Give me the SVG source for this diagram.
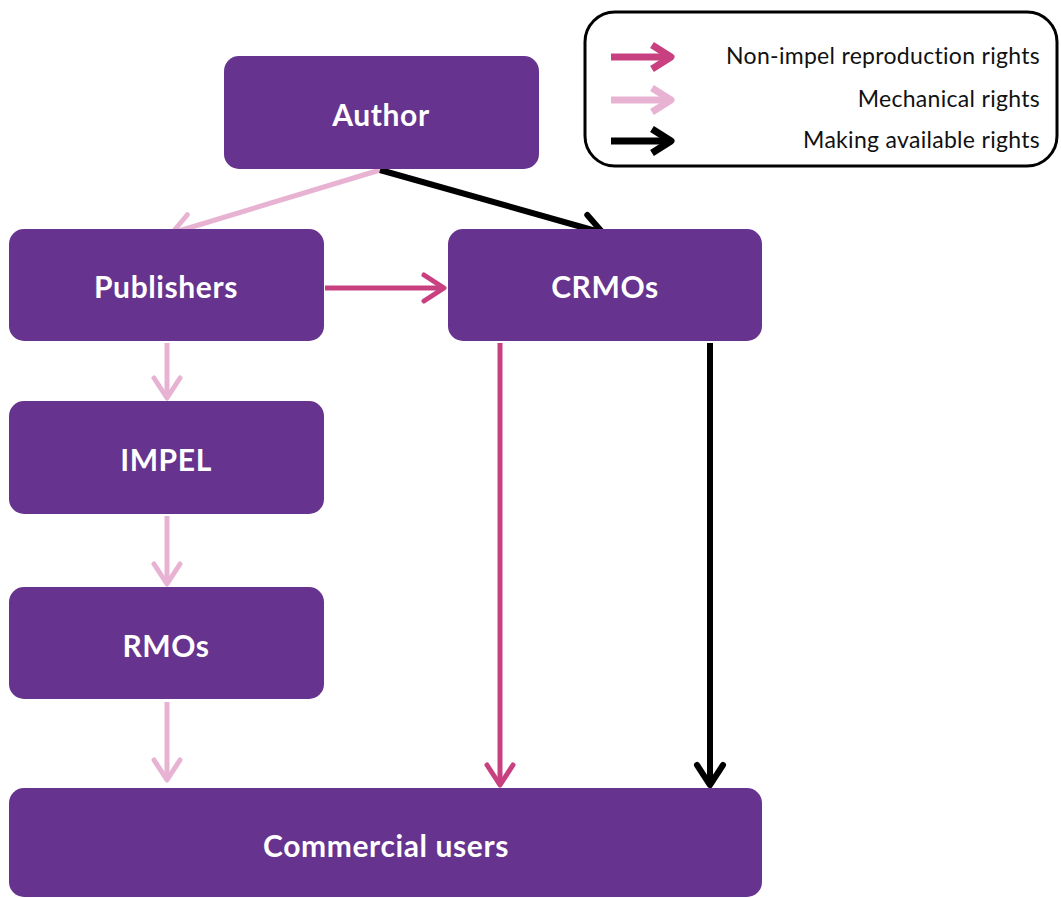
<svg xmlns="http://www.w3.org/2000/svg" width="1061" height="898" viewBox="0 0 1061 898">
<style>
.node{fill:#66338f;}
.lbl{fill:#ffffff;font-family:Lato,"Liberation Sans",sans-serif;font-size:30px;font-weight:bold;letter-spacing:0.6px;text-anchor:middle;}
.leg{fill:#111111;font-family:Lato,"Liberation Sans",sans-serif;font-size:23px;letter-spacing:0.3px;text-anchor:end;}
.c{fill:none;stroke-width:5;stroke-linecap:butt;}
.mech{stroke:#e8b3d3;}
.nonimp{stroke:#c8407f;}
.avail{stroke:#000000;stroke-width:6;}
</style>
<defs>
<marker id="hMech" markerUnits="userSpaceOnUse" viewBox="0 0 30 30" refX="26" refY="15" markerWidth="30" markerHeight="30" orient="auto" overflow="visible">
<path d="M6,2 L26,15 L6,28" fill="none" stroke="#e8b3d3" stroke-width="5" stroke-linecap="round" stroke-linejoin="round"/>
</marker>
<marker id="hNon" markerUnits="userSpaceOnUse" viewBox="0 0 30 30" refX="26" refY="15" markerWidth="30" markerHeight="30" orient="auto" overflow="visible">
<path d="M6,2 L26,15 L6,28" fill="none" stroke="#c8407f" stroke-width="5" stroke-linecap="round" stroke-linejoin="round"/>
</marker>
<marker id="hAv" markerUnits="userSpaceOnUse" viewBox="0 0 30 30" refX="26" refY="15" markerWidth="30" markerHeight="30" orient="auto" overflow="visible">
<path d="M6,2 L26,15 L6,28" fill="none" stroke="#000000" stroke-width="6" stroke-linecap="round" stroke-linejoin="round"/>
</marker>
</defs>
<rect width="1061" height="898" fill="#ffffff"/>

<g id="legend">
<rect x="585" y="12" width="472" height="154" rx="30" fill="#ffffff" stroke="#000000" stroke-width="3"/>
<line x1="611" y1="57" x2="668" y2="57" stroke="#c8407f" stroke-width="7"/>
<path d="M652,45 L671,57 L652,69" fill="none" stroke="#c8407f" stroke-width="7" stroke-linejoin="round"/>
<line x1="611" y1="100" x2="668" y2="100" stroke="#e8b3d3" stroke-width="7"/>
<path d="M652,88 L671,100 L652,112" fill="none" stroke="#e8b3d3" stroke-width="7" stroke-linejoin="round"/>
<line x1="611" y1="141" x2="668" y2="141" stroke="#000000" stroke-width="7"/>
<path d="M652,129 L671,141 L652,153" fill="none" stroke="#000000" stroke-width="7" stroke-linejoin="round"/>
<text class="leg" x="1040" y="64">Non-impel reproduction rights</text>
<text class="leg" x="1040" y="107">Mechanical rights</text>
<text class="leg" x="1040" y="148">Making available rights</text>
</g>

<g id="connectors">
<line class="c mech" x1="380" y1="170" x2="172" y2="233" marker-end="url(#hMech)"/>
<line class="c avail" x1="380" y1="170" x2="603" y2="233" marker-end="url(#hAv)"/>
<line class="c nonimp" x1="325" y1="288" x2="444" y2="288" marker-end="url(#hNon)"/>
<line class="c mech" x1="167" y1="343" x2="167" y2="398" marker-end="url(#hMech)"/>
<line class="c mech" x1="167" y1="516" x2="167" y2="584" marker-end="url(#hMech)"/>
<line class="c mech" x1="167" y1="702" x2="167" y2="780" marker-end="url(#hMech)"/>
<line class="c nonimp" x1="500" y1="343" x2="500" y2="785" marker-end="url(#hNon)"/>
<line class="c avail" x1="710" y1="343" x2="710" y2="785" marker-end="url(#hAv)"/>
</g>

<g id="author">
<rect class="node" x="224" y="56" width="315" height="113" rx="15"/>
<text class="lbl" x="381" y="126">Author</text>
</g>
<g id="publishers">
<rect class="node" x="9" y="229" width="315" height="112" rx="15"/>
<text class="lbl" x="166" y="298">Publishers</text>
</g>
<g id="crmos">
<rect class="node" x="448" y="229" width="314" height="112" rx="15"/>
<text class="lbl" x="605" y="298">CRMOs</text>
</g>
<g id="impel">
<rect class="node" x="9" y="401" width="315" height="113" rx="15"/>
<text class="lbl" x="166" y="471">IMPEL</text>
</g>
<g id="rmos">
<rect class="node" x="9" y="587" width="315" height="112" rx="15"/>
<text class="lbl" x="166" y="657">RMOs</text>
</g>
<g id="commercial">
<rect class="node" x="9" y="788" width="753" height="109" rx="15"/>
<text class="lbl" x="386" y="857">Commercial users</text>
</g>
</svg>
